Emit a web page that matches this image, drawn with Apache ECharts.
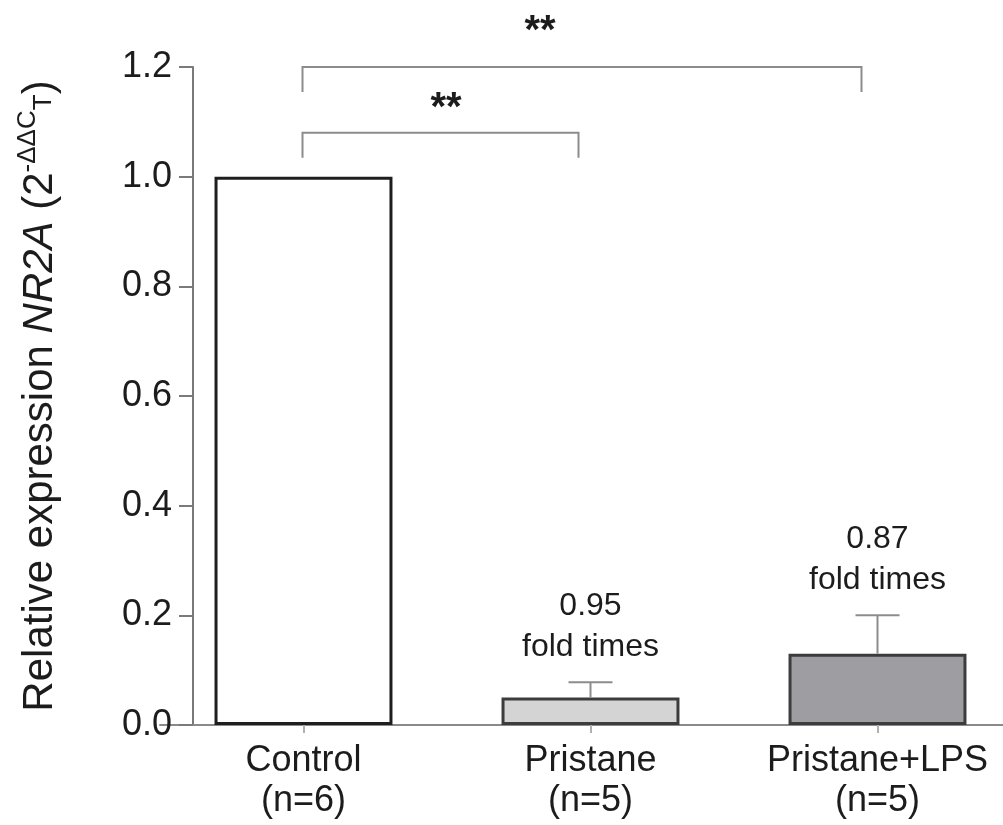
<!DOCTYPE html>
<html>
<head>
<meta charset="utf-8">
<script src="https://cdn.jsdelivr.net/npm/echarts@6/dist/echarts.min.js"></script>
<style>
  html, body { margin: 0; padding: 0; background: #fff; }
  #chart { width: 1003px; height: 825px; }
</style>
</head>
<body>
<div id="chart"></div>
<script>
// Groups and their sample sizes
const categories = ['Control\n(n=6)', 'Pristane\n(n=5)', 'Pristane+LPS\n(n=5)'];
// Mean relative expression of NR2A (2^-ΔΔCT)
const meanValues = [1.0, 0.05, 0.13];
// Upper error (SD) above each mean
const errorValues = [0, 0.028, 0.07];
// Fold reduction stated above each treated group
const foldLabels = ['', '0.95', '0.87'];
// Significance brackets: start group, end group, level, marker text
const bracketFrom = [0, 0];
const bracketTo = [1, 2];
const bracketLevel = [1.08, 1.2];
const bracketMarkLevel = [1.123, 1.263];
const bracketText = ['**', '**'];
// Y axis ticks
const yMin = 0, yMax = 1.2, yStep = 0.2;

const barFills = ['#ffffff', '#d4d4d4', '#9e9ea2'];
const barBorders = ['#1e1e1e', '#3c3c3c', '#3c3c3c'];
const FONT = '"Liberation Sans", Arial, Helvetica, sans-serif';

const chart = echarts.init(document.getElementById('chart'), null, { renderer: 'canvas' });

const option = {
  animation: false,
  backgroundColor: '#ffffff',
  grid: { left: 160, top: 67, right: -18, bottom: 100, containLabel: false, outerBoundsMode: 'none' },
  xAxis: {
    type: 'category',
    data: categories,
    boundaryGap: true,
    axisLine: { show: true, lineStyle: { color: '#8a8a8a', width: 2 } },
    axisTick: { show: true, alignWithLabel: true, length: 8, lineStyle: { color: '#b0b0b0', width: 2 } },
    axisLabel: {
      color: '#1c1c1c', fontFamily: FONT, fontSize: 36, lineHeight: 40, margin: 16, interval: 0
    },
    splitLine: { show: false }
  },
  yAxis: {
    type: 'value',
    min: yMin, max: yMax, interval: yStep,
    offset: -33,
    axisLine: { show: true, lineStyle: { color: '#7a7a7a', width: 2 } },
    axisTick: { show: true, inside: false, length: 14, lineStyle: { color: '#7a7a7a', width: 2 } },
    axisLabel: {
      color: '#1c1c1c', fontFamily: FONT, fontSize: 36, margin: 21,
      formatter: v => v.toFixed(1)
    },
    splitLine: { show: false },
    name: '{n|Relative expression }{i|NR2A}{n| (2}{sup|-ΔΔC}{sub|T}{n|)}',
    nameLocation: 'middle',
    nameRotate: 90,
    nameGap: 128,
    nameTextStyle: {
      color: '#1c1c1c', fontFamily: FONT,
      rich: {
        n: { fontSize: 42, lineHeight: 50, fontFamily: FONT, color: '#1c1c1c' },
        i: { fontSize: 42, lineHeight: 50, fontStyle: 'italic', fontFamily: FONT, color: '#1c1c1c' },
        sup: { fontSize: 26, lineHeight: 50, verticalAlign: 'top', fontFamily: FONT, color: '#1c1c1c', padding: [0, 0, 24, 0] },
        sub: { fontSize: 26, lineHeight: 50, fontFamily: FONT, color: '#1c1c1c', padding: [8, 0, 0, 0] }
      }
    }
  },
  series: [
    {
      type: 'bar',
      data: meanValues.map((v, i) => ({
        value: v,
        itemStyle: { color: barFills[i], borderColor: barBorders[i], borderWidth: 3 }
      })),
      barWidth: '62%',
      z: 2
    },
    {
      // upper error bars with the fold-change note above each one
      type: 'custom',
      data: meanValues.map((v, i) => [i, v, v + errorValues[i], foldLabels[i]]),
      z: 3,
      clip: false,
      renderItem: (params, api) => {
        const i = params.dataIndex;
        const base = api.coord([api.value(0), api.value(1)]);
        const top = api.coord([api.value(0), api.value(2)]);
        const children = [];
        const stroke = { stroke: '#8c8c8c', lineWidth: 2 };
        if (errorValues[i] > 0) {
          children.push({ type: 'line', shape: { x1: base[0], y1: base[1], x2: top[0], y2: top[1] }, style: stroke });
          children.push({ type: 'line', shape: { x1: top[0] - 22, y1: top[1], x2: top[0] + 22, y2: top[1] }, style: stroke });
        }
        if (foldLabels[i]) {
          children.push({
            type: 'text',
            x: top[0], y: top[1] - 15,
            style: {
              text: foldLabels[i] + '\nfold times',
              fontFamily: FONT, fontSize: 32, lineHeight: 41,
              fill: '#1c1c1c', align: 'center', verticalAlign: 'bottom'
            }
          });
        }
        return { type: 'group', children };
      }
    },
    {
      // significance brackets
      type: 'custom',
      data: bracketFrom.map((f, k) => [f, bracketTo[k], bracketLevel[k], bracketMarkLevel[k]]),
      z: 4,
      clip: false,
      renderItem: (params, api) => {
        const k = params.dataIndex;
        const a = api.coord([api.value(0), api.value(2)]);
        const b = api.coord([api.value(1), api.value(2)]);
        const m = api.coord([api.value(0), api.value(3)]);
        const leg = 25;
        const x1 = a[0] - 1, x2 = b[0] - (k === 0 ? 12 : 16), y = a[1];
        const t = k === 0 ? 0.52 : 0.425;
        return {
          type: 'group',
          children: [
            {
              type: 'polyline',
              shape: { points: [[x1, y + leg], [x1, y], [x2, y], [x2, y + leg]] },
              style: { stroke: '#8c8c8c', lineWidth: 2, fill: null }
            },
            {
              type: 'text',
              x: x1 + (x2 - x1) * t, y: m[1],
              style: {
                text: bracketText[k], fontFamily: FONT, fontSize: 40, fontWeight: 'bold',
                fill: '#1c1c1c', align: 'center', verticalAlign: 'middle'
              }
            }
          ]
        };
      }
    }
  ]
};

chart.setOption(option);
</script>
</body>
</html>
